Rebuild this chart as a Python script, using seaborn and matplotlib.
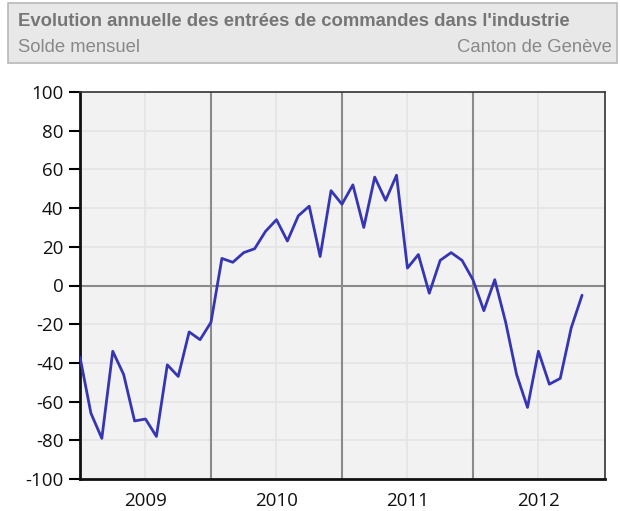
import numpy as np
import pandas as pd
import seaborn as sns
import matplotlib.pyplot as plt
from matplotlib.patches import Rectangle

# valeurs mensuelles (janv. 2009 - nov. 2012)
solde_2009 = [-37, -66, -79, -34, -46, -70, -69, -78, -41, -47, -24, -28]
solde_2010 = [-19, 14, 12, 17, 19, 28, 34, 23, 36, 41, 15, 49]
solde_2011 = [42, 52, 30, 56, 44, 57, 9, 16, -4, 13, 17, 13]
solde_2012 = [3, -13, 3, -19, -46, -63, -34, -51, -48, -22, -5]
annees = ['2009', '2010', '2011', '2012']
y_ticks = list(range(-100, 101, 20))

solde = solde_2009 + solde_2010 + solde_2011 + solde_2012
df = pd.DataFrame({'mois': np.arange(len(solde)), 'solde': solde})

sns.set_theme(style='white')
plt.rcParams['font.family'] = ['Open Sans', 'DejaVu Sans']

W, H = 620, 511
fig = plt.figure(figsize=(W / 100, H / 100), dpi=100)
ax = fig.add_axes([80 / W, 1 - 479 / H, 525 / W, 387 / H])
ax.set_facecolor('#f2f2f2')

# bandeau du titre
fig.patches.append(Rectangle((8 / W, 1 - 63 / H), 609 / W, 59.5 / H, transform=fig.transFigure,
                             facecolor='#e8e8e8', edgecolor='#b8b8b8', linewidth=1.2, zorder=0))
fig.text(18 / W, 1 - 21 / H, "Evolution annuelle des entrées de commandes dans l'industrie",
         family='Liberation Sans', fontsize=13.3, fontweight='bold', color='#767676', va='center')
fig.text(18 / W, 1 - 47 / H, 'Solde mensuel', family='Liberation Sans', fontsize=13.3,
         color='#888888', va='center')
fig.text(612 / W, 1 - 47 / H, 'Canton de Genève', family='Liberation Sans', fontsize=13.3,
         color='#888888', va='center', ha='right')

# grille
for yv in y_ticks:
    ax.axhline(yv, color='#e4e4e4', linewidth=1.2, zorder=0)
for i in range(len(annees)):
    ax.axvline(12 * i + 6, color='#e4e4e4', linewidth=1.2, zorder=0)
for i in range(1, len(annees)):
    ax.axvline(12 * i, color='#8a8a8a', linewidth=1.5, zorder=1)
ax.axhline(0, color='#8a8a8a', linewidth=1.5, zorder=1)

sns.lineplot(data=df, x='mois', y='solde', ax=ax, color='#3636b4', linewidth=2.0, zorder=3)

ax.set_xlim(0, 48.1)
ax.set_ylim(-100, 100)
ax.set_yticks(y_ticks)
ax.set_yticklabels([str(v) for v in y_ticks])
ax.set_xticks([12 * i + 6 for i in range(len(annees))])
ax.set_xticklabels(annees)
ax.tick_params(axis='y', length=8, width=1.5, color='black', pad=4, labelsize=13.5, left=True,
               labelcolor='#111111')
ax.tick_params(axis='x', length=0, pad=9, labelsize=13.5, labelcolor='#111111')
ax.set_xlabel('')
ax.set_ylabel('')

for side in ['left', 'bottom']:
    ax.spines[side].set_linewidth(2)
    ax.spines[side].set_color('#111111')
for side in ['top', 'right']:
    ax.spines[side].set_linewidth(1.2)
    ax.spines[side].set_color('#333333')

fig.savefig('out.png', dpi=100)
